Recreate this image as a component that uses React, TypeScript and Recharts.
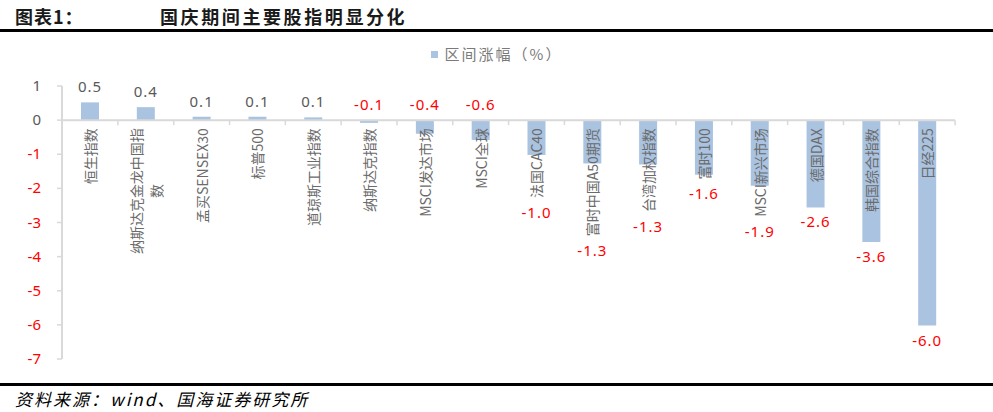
import React from 'react';
import { BarChart, Bar, XAxis, YAxis, ReferenceLine, LabelList, Legend } from 'recharts';

// ---------- data ----------
const categories = [
  '恒生指数',
  '纳斯达克金龙中国指数',
  '孟买SENSEX30',
  '标普500',
  '道琼斯工业指数',
  '纳斯达克指数',
  'MSCI发达市场',
  'MSCI全球',
  '法国CAC40',
  '富时中国A50期货',
  '台湾加权指数',
  '富时100',
  'MSCI新兴市场',
  '德国DAX',
  '韩国综合指数',
  '日经225',
];
const changes = [0.52, 0.38, 0.1, 0.1, 0.08, -0.08, -0.4, -0.58, -1.02, -1.27, -1.3, -1.6, -1.92, -2.56, -3.57, -6.02];
const yTicks = [1, 0, -1, -2, -3, -4, -5, -6, -7];
const seriesName = '区间涨幅（%）';
const titleLabel = '图表1：';
const titleText = '国庆期间主要股指明显分化';
const sourceText = '资料来源：wind、国海证券研究所';

const data = categories.map((name, i) => ({ name, value: changes[i] }));

// ---------- layout / style ----------
const W = 993;
const H = 412;
const PLOT_LEFT = 62;
const PLOT_RIGHT = 955;
const PLOT_TOP = 86;
const PLOT_BOTTOM = 359;
const Y_AXIS_W = 50;
const CAT_W = (PLOT_RIGHT - PLOT_LEFT) / categories.length;
const BAR_COLOR = '#a9c3e1';
const GRID = '#d9d9d9';
const GRAY = '#595959';
const RED = '#ff0000';
const CJK = "'Noto Sans CJK SC', 'Noto Sans', sans-serif";
const CAT_FONT = 14;
const MAX_LINE = 130;

let ctx: CanvasRenderingContext2D | null = null;
const measure = (s: string) => {
  if (!ctx && typeof document !== 'undefined') {
    ctx = document.createElement('canvas').getContext('2d');
  }
  if (ctx) {
    ctx.font = `${CAT_FONT}px 'Noto Sans CJK SC'`;
    return ctx.measureText(s).width;
  }
  return s.length * CAT_FONT;
};

const wrap = (s: string) => {
  if (measure(s) <= MAX_LINE) return [s];
  const lines: string[] = [];
  let cur = '';
  for (const ch of s) {
    if (measure(cur + ch) > MAX_LINE && cur) {
      lines.push(cur);
      cur = ch;
    } else cur += ch;
  }
  if (cur) lines.push(cur);
  return lines;
};

const geom = (props: any) => {
  const vb = props.viewBox && props.viewBox.x !== undefined ? props.viewBox : props;
  const x = Number(vb.x);
  const y = Number(vb.y);
  const width = Number(vb.width);
  const height = Number(vb.height);
  const cx = x + width / 2;
  const idx = Math.max(0, Math.min(categories.length - 1, Math.floor((cx - PLOT_LEFT) / CAT_W)));
  const v = changes[idx];
  const top = Math.min(y, y + height);
  const bottom = Math.max(y, y + height);
  const y0 = v >= 0 ? bottom : top;
  const end = v >= 0 ? top : bottom;
  return { cx, idx, v, y0, end };
};

const CategoryLabel = (props: any) => {
  const { cx, idx, y0 } = geom(props);
  const lines = wrap(categories[idx]);
  const maxLen = Math.max(...lines.map(measure));
  const mid = y0 + 8 + maxLen / 2;
  const gap = 20;
  return (
    <g>
      <line x1={cx - CAT_W / 2} x2={cx - CAT_W / 2} y1={y0} y2={y0 + 5} stroke={GRID} strokeWidth={1.5} />
      {idx === categories.length - 1 && (
        <line x1={cx + CAT_W / 2} x2={cx + CAT_W / 2} y1={y0} y2={y0 + 5} stroke={GRID} strokeWidth={1.5} />
      )}
      {lines.map((ln, i) => {
        const lx = cx + (i - (lines.length - 1) / 2) * gap;
        return (
          <text
            key={i}
            x={lx}
            y={mid}
            transform={`rotate(-90 ${lx} ${mid})`}
            textAnchor="middle"
            dominantBaseline="central"
            fontSize={CAT_FONT}
            fontFamily={CJK}
            fill="#6b6b6b"
          >
            {ln}
          </text>
        );
      })}
    </g>
  );
};

const ValueLabel = (props: any) => {
  const { cx, idx, v, y0, end } = geom(props);
  let ty: number;
  if (v >= 0) ty = end - 10;
  else if (v > -0.7) ty = y0 - 10;
  else {
    const lines = wrap(categories[idx]);
    const textEnd = y0 + 8 + Math.max(...lines.map(measure));
    ty = Math.max(end, textEnd) + 20;
  }
  return (
    <text
      x={cx}
      y={ty}
      textAnchor="middle"
      fontSize={15}
      letterSpacing={1}
      fontFamily="'Noto Sans', sans-serif"
      fill={v >= 0 ? GRAY : RED}
    >
      {v.toFixed(1)}
    </text>
  );
};

const YTick = (props: any) => {
  const { x, y, payload } = props;
  const val = payload.value;
  return (
    <text x={x} y={y} dy={5} textAnchor="end" fontSize={15} fontFamily="'Noto Sans', sans-serif" fill={val < 0 ? RED : GRAY}>
      {val}
    </text>
  );
};

const LegendContent = () => (
  <div style={{ display: 'flex', justifyContent: 'center', alignItems: 'center', width: W }}>
    <span style={{ display: 'inline-block', width: 7, height: 7, background: BAR_COLOR, marginRight: 7 }} />
    <span style={{ fontFamily: CJK, fontSize: 15, letterSpacing: 2, color: '#7a7a7a', lineHeight: '16px' }}>{seriesName}</span>
  </div>
);

export default function App() {
  return (
    <div style={{ position: 'absolute', left: 0, top: 0, width: W, height: H, background: '#fff', overflow: 'hidden' }}>
      <div style={{ position: 'absolute', left: 15, top: 4, fontFamily: CJK, fontSize: 18, fontWeight: 700, color: '#1a1a1a', letterSpacing: 1, lineHeight: '24px' }}>
        {titleLabel}
      </div>
      <div style={{ position: 'absolute', left: 160, top: 4, fontFamily: CJK, fontSize: 18, fontWeight: 700, color: '#1a1a1a', letterSpacing: 2.6, lineHeight: '24px' }}>
        {titleText}
      </div>
      <div style={{ position: 'absolute', left: 0, top: 29, width: W, height: 3, background: '#000' }} />
      <div style={{ position: 'absolute', left: 0, top: 383, width: W, height: 3, background: '#000' }} />
      <div style={{ position: 'absolute', left: 15, top: 388, fontFamily: CJK, fontSize: 17, fontStyle: 'italic', color: '#000', letterSpacing: 2, lineHeight: '22px' }}>
        {sourceText}
      </div>
      <div style={{ position: 'absolute', left: 0, top: 0 }}>
        <BarChart
          width={W}
          height={H}
          data={data}
          margin={{ top: PLOT_TOP, right: W - PLOT_RIGHT, bottom: H - PLOT_BOTTOM, left: PLOT_LEFT - Y_AXIS_W }}
          barSize={18}
        >
          <XAxis dataKey="name" hide />
          <YAxis
            width={Y_AXIS_W}
            domain={[-7, 1]}
            ticks={yTicks}
            interval={0}
            axisLine={{ stroke: GRID, strokeWidth: 2 }}
            tickLine={{ stroke: GRID, strokeWidth: 1.5 }}
            tickSize={5}
            tickMargin={16}
            tick={<YTick />}
          />
          <Legend verticalAlign="middle" content={<LegendContent />} wrapperStyle={{ top: 46, left: 0, width: W }} />
          <Bar dataKey="value" name={seriesName} fill={BAR_COLOR} isAnimationActive={false}>
            <LabelList dataKey="name" content={<CategoryLabel />} />
            <LabelList dataKey="value" content={<ValueLabel />} />
          </Bar>
          <ReferenceLine y={0} stroke={GRID} strokeWidth={2} />
        </BarChart>
      </div>
    </div>
  );
}
